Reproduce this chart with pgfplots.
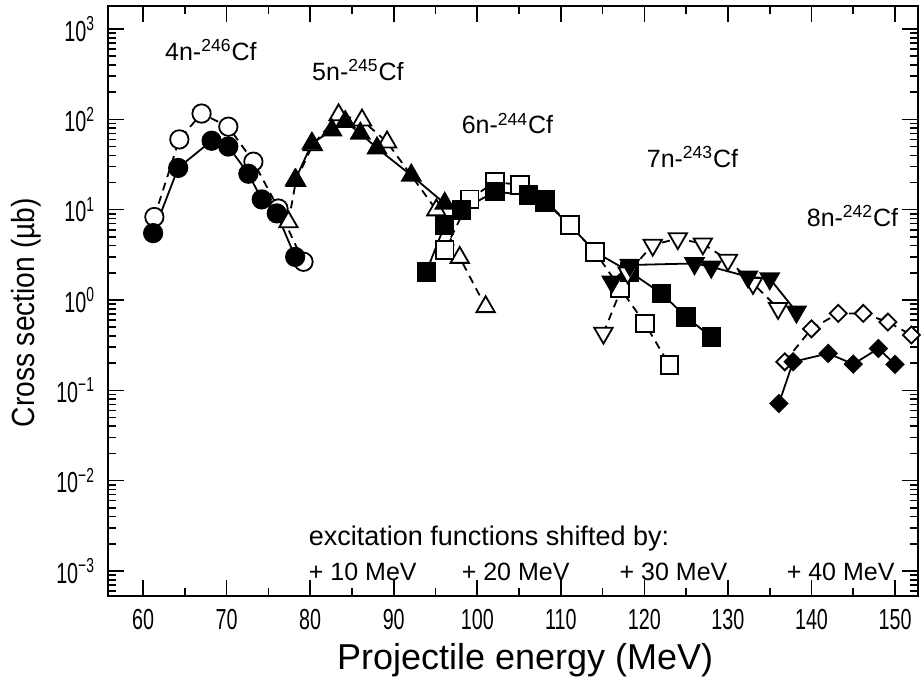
\documentclass[border=0pt]{standalone}
\usepackage{fontspec}
\setmainfont{Liberation Sans}
\newfontfamily\narrowfont{Liberation Sans}[FakeStretch=0.68]
\newfontfamily\labelfont{Liberation Sans}[FakeStretch=0.88]
\usepackage{pgfplots}
\pgfplotsset{compat=1.18}
\begin{document}
\begin{tikzpicture}
\begin{axis}[
  scale only axis, width=405pt, height=295pt,
  xmin=55.8, xmax=152.75,
  ymode=log, ymin=5.28e-4, ymax=1.8e3,
  axis line style={line width=1pt},
  tick align=inside,
  major tick length=8pt, minor tick length=4pt,
  tick style={black, line width=0.8pt},
  xtick={60,70,...,150},
  xticklabels={60,70,80,90,100,110,120,130,140,150},
  minor xtick={65,75,...,145},
  ytick={1e-3,1e-2,1e-1,1,10,100,1000},
  yticklabels={10\textsuperscript{−3},10\textsuperscript{−2},10\textsuperscript{−1},10\textsuperscript{0},10\textsuperscript{1},10\textsuperscript{2},10\textsuperscript{3}},
  minor ytick={6e-4,7e-4,8e-4,9e-4,2e-3,3e-3,4e-3,5e-3,6e-3,7e-3,8e-3,9e-3,2e-2,3e-2,4e-2,5e-2,6e-2,7e-2,8e-2,9e-2,2e-1,3e-1,4e-1,5e-1,6e-1,7e-1,8e-1,9e-1,2,3,4,5,6,7,8,9,20,30,40,50,60,70,80,90,200,300,400,500,600,700,800,900},
  xticklabel style={font=\narrowfont\fontsize{14.5}{14.5}\selectfont, yshift=-3pt},
  yticklabel style={font=\narrowfont\fontsize{14.5}{14.5}\selectfont, xshift=-3pt},
  xlabel={Projectile energy (MeV)},
  ylabel={Cross section (µb)},
  xlabel style={at={(axis description cs:0.515,-0.108)}, anchor=center, font=\fontsize{18}{18}\selectfont},
  ylabel style={at={(axis description cs:-0.101,0.48)}, anchor=center, font=\labelfont\fontsize{16}{16}\selectfont},
  every axis plot/.append style={black, line width=0.9pt},
  opn/.style={mark options={solid, fill=white, line width=0.9pt}},
  fld/.style={mark options={solid, fill=black}},
  dsh/.style={dash pattern=on 4pt off 3pt},
]
% 4n
\addplot[dsh, mark=*, mark size=4.6pt, opn] coordinates {(61.35,8.3)(64.34,60)(67.0,116)(70.2,83)(73.2,34)(76.2,10.3)(79.2,2.65)};
\addplot[solid, mark=*, mark size=4.6pt, fld] coordinates {(61.2,5.5)(64.2,29)(68.2,58)(70.2,50)(72.6,25)(74.2,13)(76.0,9.1)(78.2,3.0)};
% 5n
\addplot[dsh, mark=triangle*, mark size=5.3pt, opn] coordinates {(77.4,7.3)(78.3,21)(80.3,52)(83.4,112)(86.2,98)(89.2,56)(95.1,9.9)(97.9,2.95)(101.0,0.84)};
\addplot[solid, mark=triangle*, mark size=5.3pt, fld] coordinates {(78.2,21.3)(80.2,54)(82.6,76)(84.2,94)(86.0,70)(88.0,48)(92.1,24)(96.1,11.7)};
% 6n
\addplot[dsh, mark=square*, mark size=4.4pt, opn] coordinates {(96.1,3.57)(99.1,13)(102.1,20.4)(105.1,18.7)(108.1,12.8)(111.1,6.75)(114.1,3.4)(117.1,1.35)(120.05,0.55)(123.0,0.19)};
\addplot[solid, no marks] coordinates {(93.9,2.05)(96.1,6.75)(98.1,9.9)(102.1,15.8)(106.1,14.5)(108.1,12.2)(111.1,6.75)(114.1,3.4)(118.25,2.05)(122.05,1.18)(125.0,0.65)(128.0,0.39)};
\addplot[only marks, mark=square*, mark size=4.4pt, fld] coordinates {(93.9,2.05)(96.1,6.75)(98.1,9.9)(102.1,15.8)(106.1,14.5)(108.1,12.2)(118.25,2.05)(122.05,1.18)(125.0,0.65)(128.0,0.39)};
% 7n
\addplot[dsh, mark=triangle*, mark size=5.3pt, opn, every mark/.append style={rotate=180}] coordinates {(115.1,0.43)(118.0,2.0)(121.0,4.06)(124.0,4.8)(127.0,4.2)(130.0,2.77)(133.0,1.53)(136.0,0.81)};
\addplot[solid, mark=triangle*, mark size=5.3pt, fld, every mark/.append style={rotate=180}] coordinates {(116.1,1.59)(118.25,2.44)(126.0,2.54)(128.0,2.33)(132.4,1.81)(135.0,1.73)(138.2,0.74)};
% 8n
\addplot[dsh, mark=square*, mark size=3pt, opn, every mark/.append style={rotate=45}] coordinates {(136.8,0.207)(140.0,0.48)(143.2,0.71)(146.2,0.71)(149.15,0.57)(151.95,0.41)};
\addplot[solid, mark=square*, mark size=3pt, fld, every mark/.append style={rotate=45}] coordinates {(136.1,0.0716)(137.8,0.207)(142.0,0.256)(145.0,0.195)(148.0,0.29)(150.0,0.194)};
% labels
\node[anchor=west, font=\fontsize{12.5}{12.5}\selectfont] at (axis cs:61.8,585) {4n-\textsuperscript{246}Cf};
\node[anchor=west, font=\fontsize{12.5}{12.5}\selectfont] at (axis cs:79.4,351) {5n-\textsuperscript{245}Cf};
\node[anchor=west, font=\fontsize{12.5}{12.5}\selectfont] at (axis cs:97.3,90) {6n-\textsuperscript{244}Cf};
\node[anchor=west, font=\fontsize{12.5}{12.5}\selectfont] at (axis cs:119.45,38) {7n-\textsuperscript{243}Cf};
\node[anchor=west, font=\fontsize{12.5}{12.5}\selectfont] at (axis cs:138.6,8.5) {8n-\textsuperscript{242}Cf};
\node[anchor=west, font=\fontsize{13.5}{13.5}\selectfont] at (axis cs:79.0,2.31e-3) {excitation functions shifted by:};
\node[anchor=west, font=\fontsize{12.5}{12.5}\selectfont] at (axis cs:79.0,9.7e-4) {+ 10 MeV};
\node[anchor=west, font=\fontsize{12.5}{12.5}\selectfont] at (axis cs:97.3,9.7e-4) {+ 20 MeV};
\node[anchor=west, font=\fontsize{12.5}{12.5}\selectfont] at (axis cs:116.2,9.7e-4) {+ 30 MeV};
\node[anchor=west, font=\fontsize{12.5}{12.5}\selectfont] at (axis cs:136.2,9.7e-4) {+ 40 MeV};
\end{axis}
\pgfresetboundingbox
\path[use as bounding box] ([xshift=-54pt,yshift=-44pt]current axis.south west) rectangle ([xshift=2.5pt,yshift=3pt]current axis.north east);
\end{tikzpicture}
\end{document}
